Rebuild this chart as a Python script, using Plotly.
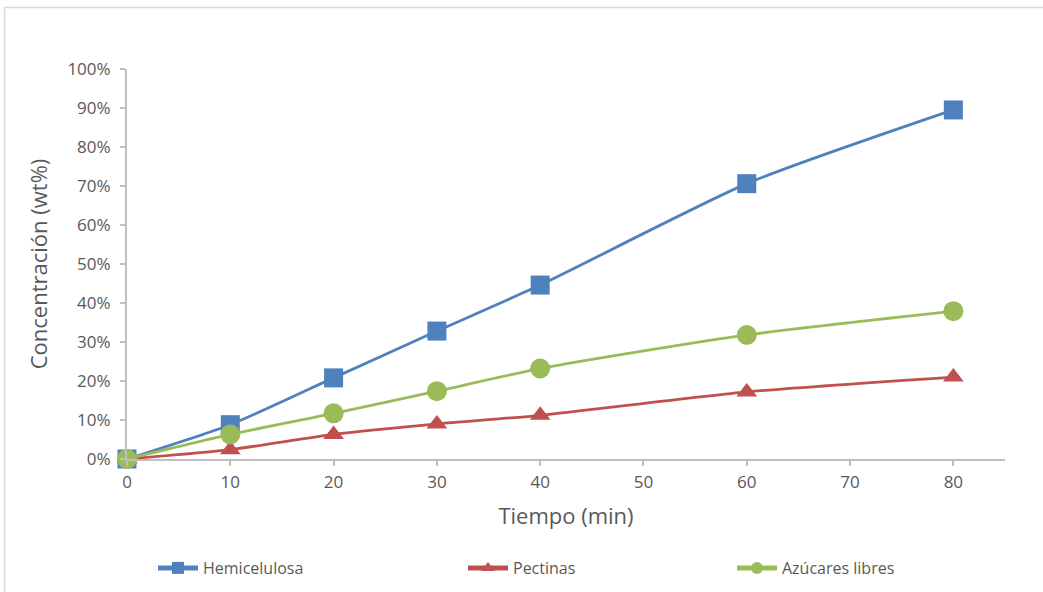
import plotly.graph_objects as go

# Reaction time (min) and mass fraction of each component
tiempo = [0, 10, 20, 30, 40, 60, 80]
hemicelulosa = [0.0, 0.088, 0.208, 0.328, 0.446, 0.706, 0.895]
pectinas = [0.0, 0.024, 0.063, 0.090, 0.112, 0.172, 0.210]
azucares = [0.0, 0.063, 0.117, 0.174, 0.232, 0.318, 0.379]

series = [
    ("Hemicelulosa", hemicelulosa, "#4F81BD", "square", 19, "legend"),
    ("Pectinas", pectinas, "#C0504D", "triangle-up", 18, "legend2"),
    ("Azúcares libres", azucares, "#9BBB59", "circle", 20, "legend3"),
]

W, H = 1043, 592
L, R, T, B = 127, 38, 69, 133
GREY_TXT = "#595959"
GREY_AX = "#BFBFBF"
FONT = "Open Sans"

fig = go.Figure()
for name, vals, color, sym, size, leg in series:
    fig.add_trace(go.Scatter(
        x=tiempo, y=vals, name=name, mode="lines+markers",
        line=dict(color=color, width=2.8, shape="spline", smoothing=0.6),
        marker=dict(symbol=sym, size=size, color=color),
        cliponaxis=False, legend=leg, showlegend=True,
    ))

pw, ph = W - L - R, H - T - B


def px_x(p):
    return (p - L) / pw


def px_y(p):
    return (H - B - p) / ph


legend_style = dict(
    orientation="h", xanchor="left", yanchor="middle",
    font=dict(family=FONT, size=16, color=GREY_TXT),
    bgcolor="rgba(0,0,0,0)", itemwidth=40, itemsizing="constant",
)

fig.update_layout(
    width=W, height=H,
    margin=dict(l=L, r=R, t=T, b=B, autoexpand=False),
    paper_bgcolor="white", plot_bgcolor="white",
    font=dict(family=FONT, color=GREY_TXT),
    showlegend=True,
    legend=dict(x=px_x(153), y=px_y(568), **legend_style),
    legend2=dict(x=px_x(463), y=px_y(568), **legend_style),
    legend3=dict(x=px_x(732), y=px_y(568), **legend_style),
    xaxis=dict(
        range=[0, 85], tick0=0, dtick=10,
        showgrid=False, zeroline=False,
        showline=True, linecolor=GREY_AX, linewidth=2,
        ticks="outside", ticklen=5, tickcolor=GREY_AX, tickwidth=1.5,
        ticklabelstandoff=2,
        tickfont=dict(family=FONT, size=17, color=GREY_TXT),
        title=dict(text="Tiempo (min)", font=dict(family=FONT, size=22, color=GREY_TXT), standoff=16),
    ),
    yaxis=dict(
        range=[0, 1], dtick=0.1, tickformat=".0%",
        showgrid=False, zeroline=False,
        showline=True, linecolor=GREY_AX, linewidth=2,
        ticks="outside", ticklen=5, tickcolor=GREY_AX, tickwidth=1.5,
        ticklabelstandoff=6,
        tickfont=dict(family=FONT, size=17, color=GREY_TXT),
        title=dict(text="Concentración (wt%)", font=dict(family=FONT, size=22, color=GREY_TXT), standoff=14),
    ),
    shapes=[dict(
        type="rect", xref="paper", yref="paper",
        x0=px_x(4.5), x1=px_x(1060), y0=px_y(610), y1=px_y(7.5),
        line=dict(color="#D9D9D9", width=1.5), layer="below",
    )],
)

fig.write_html("out.html")
